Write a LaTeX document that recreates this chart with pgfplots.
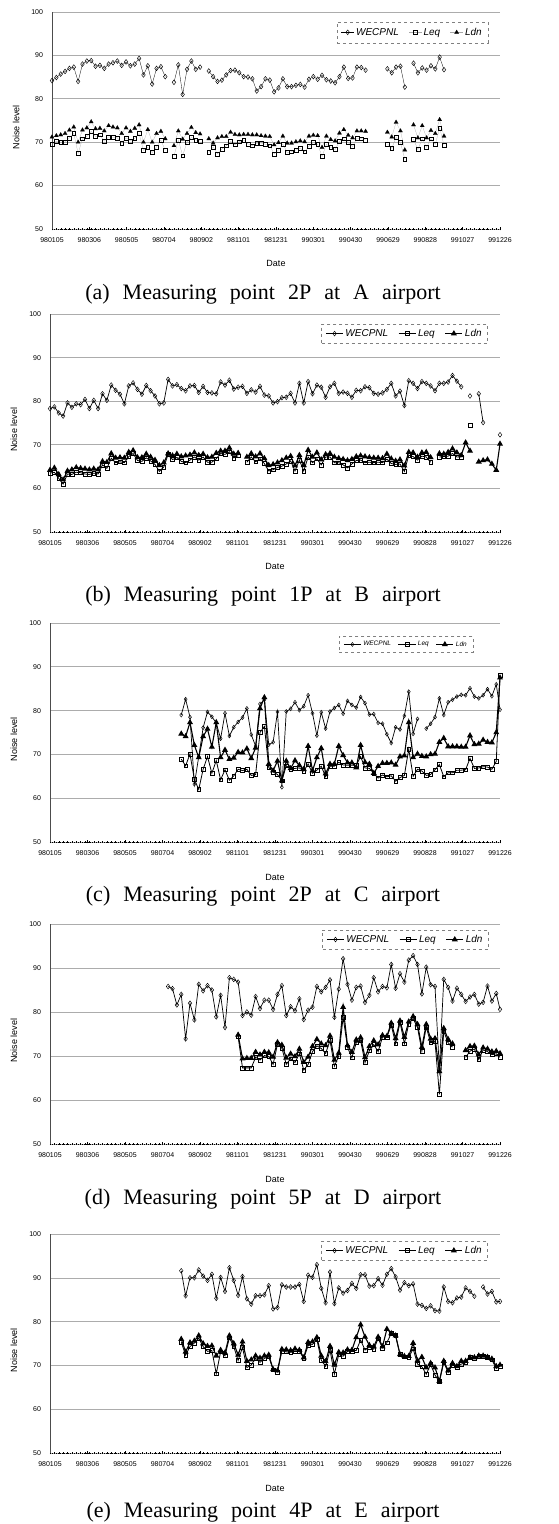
\documentclass[border=0pt]{standalone}
\usepackage{fontspec}
\setmainfont{Liberation Serif}
\setsansfont{Liberation Sans}
\usepackage{pgfplots}
\usepackage{pgfplotstable}
\pgfplotsset{compat=1.18}

\pgfplotstableread{
k W L D
0 84.2 69.5 71.2
1 84.9 70.2 71.5
2 85.7 70.0 71.7
3 86.3 70.0 72.0
4 87.0 71.0 72.8
5 87.3 72.0 73.5
6 84.0 67.4 70.0
7 88.0 70.8 72.8
8 88.7 71.3 73.3
9 88.8 72.5 74.7
10 87.5 71.3 73.1
11 87.7 71.7 73.2
12 87.0 70.2 72.6
13 88.0 71.2 73.8
14 88.3 71.1 73.5
15 88.7 71.0 73.3
16 87.7 69.8 72.0
17 88.5 71.0 73.3
18 87.6 70.3 72.5
19 88.0 70.9 73.2
20 89.3 72.0 74.0
21 85.5 68.1 70.0
22 87.6 68.8 72.9
23 83.4 67.6 70.0
24 87.0 68.9 72.0
25 87.4 70.5 72.5
26 85.1 68.1 70.8
27 nan nan nan
28 83.8 66.8 69.2
29 87.8 70.5 72.6
30 81.0 66.9 70.7
31 86.8 70.0 72.0
32 88.7 71.1 73.4
33 86.8 70.5 72.2
34 87.3 70.3 71.9
35 nan nan nan
36 86.4 67.6 70.8
37 85.1 68.9 69.8
38 84.0 67.3 71.0
39 84.3 68.4 71.3
40 85.5 69.2 71.3
41 86.5 70.2 72.3
42 86.6 69.4 71.8
43 86.0 70.1 71.7
44 85.1 70.5 71.8
45 85.0 69.6 71.8
46 84.6 69.2 71.7
47 81.8 69.7 71.7
48 82.8 69.8 71.5
49 84.6 69.5 71.4
50 84.3 69.2 71.3
51 81.6 67.3 69.4
52 82.5 68.2 69.9
53 84.6 69.6 71.4
54 82.8 67.6 69.8
55 82.8 67.8 69.8
56 83.1 68.2 70.1
57 83.3 68.6 70.3
58 82.7 67.8 70.1
59 84.5 69.1 71.4
60 85.1 69.9 71.6
61 84.5 69.5 71.5
62 85.4 66.7 68.8
63 84.4 69.5 71.4
64 84.1 68.8 70.6
65 83.7 68.3 70.3
66 85.1 70.2 72.1
67 87.3 70.8 72.9
68 84.7 69.9 71.6
69 84.8 69.0 71.0
70 87.3 70.9 72.6
71 87.2 70.8 72.6
72 86.6 70.5 72.5
73 nan nan nan
77 86.9 69.6 72.3
78 86.0 68.6 71.2
79 87.3 71.1 74.6
80 87.5 69.9 72.6
81 82.7 66.1 68.2
82 nan nan nan
83 88.2 70.7 74.0
84 86.0 68.3 71.0
85 87.1 70.8 73.8
86 86.6 68.8 71.0
87 87.6 70.8 72.7
88 86.9 69.5 72.0
89 89.6 73.3 75.2
90 86.7 69.3 71.4
}\tabA

\pgfplotstableread{
k W L D
0 78.3 63.5 64.2
1 78.7 63.7 64.7
2 77.3 62.3 63.2
3 76.6 61.0 62.0
4 79.6 63.3 64.0
5 78.6 63.2 64.3
6 79.4 63.7 64.8
7 79.2 63.6 64.6
8 80.4 63.3 64.5
9 78.3 63.2 64.3
10 80.2 63.5 64.5
11 78.3 63.3 64.3
12 81.7 65.4 66.2
13 80.2 64.6 66.0
14 83.7 66.9 68.0
15 82.5 65.9 67.0
16 81.6 66.1 67.1
17 79.4 65.9 67.0
18 83.5 67.3 68.3
19 84.2 68.0 68.7
20 82.7 66.4 67.1
21 81.6 66.2 67.1
22 83.6 67.0 67.9
23 82.4 66.3 67.2
24 81.2 65.5 66.5
25 79.4 63.9 65.3
26 79.6 64.9 65.9
27 85.0 67.8 68.0
28 83.5 66.6 67.5
29 83.8 67.1 67.9
30 82.9 66.2 67.3
31 82.4 65.9 67.5
32 83.5 66.5 67.7
33 83.6 67.2 68.2
34 82.0 66.5 67.6
35 83.4 67.2 67.9
36 82.0 66.0 67.1
37 81.9 66.0 67.2
38 81.7 66.8 68.1
39 84.4 68.0 68.6
40 83.7 67.8 68.6
41 84.8 68.4 69.3
42 82.8 67.0 67.9
43 83.2 67.5 68.1
44 83.4 nan nan
45 81.8 66.0 67.2
46 82.6 67.2 68.0
47 82.1 66.1 67.3
48 83.4 66.8 68.0
49 81.4 65.7 66.9
50 81.2 64.0 65.3
51 79.6 64.3 65.5
52 79.9 64.8 65.9
53 80.8 65.1 66.4
54 80.9 65.6 67.0
55 81.8 66.3 67.4
56 79.6 64.0 65.2
57 84.1 66.5 67.6
58 79.6 64.0 65.3
59 84.5 67.2 68.8
60 81.7 65.9 67.2
61 83.7 66.8 68.2
62 83.2 65.4 66.6
63 80.9 67.2 67.8
64 83.3 67.2 68.0
65 84.1 65.9 67.2
66 81.8 65.9 66.9
67 82.1 65.4 66.7
68 81.8 64.7 66.4
69 80.9 65.6 66.7
70 82.5 66.4 67.3
71 82.4 66.5 67.5
72 83.3 65.9 67.3
73 83.1 66.0 67.1
74 81.8 65.9 67.0
75 81.6 66.0 67.0
76 81.9 65.9 66.9
77 82.7 66.7 67.9
78 84.1 65.7 66.8
79 81.2 65.5 66.3
80 82.3 65.6 66.6
81 79.0 63.9 65.2
82 84.7 67.6 68.3
83 84.1 67.3 68.2
84 82.9 66.5 67.2
85 84.5 67.4 68.2
86 84.1 67.2 68.3
87 83.5 66.0 67.1
88 82.4 nan nan
89 84.1 67.2 68.0
90 84.1 67.3 67.9
91 84.4 67.4 68.3
92 85.9 68.0 69.1
93 84.6 67.2 68.2
94 83.3 67.2 67.6
95 nan nan 70.5
96 81.2 74.4 68.6
97 nan nan nan
98 81.7 nan 66.1
99 75.1 nan 66.4
100 nan nan 66.6
101 nan nan 65.6
102 nan nan 64.2
102.86 72.3 nan 70.2
}\tabB

\pgfplotstableread{
k W L D
30 79.0 68.9 74.7
31 82.6 67.4 74.1
32 78.5 70.1 77.3
33 63.2 64.3 72.1
34 69.5 62.0 69.3
35 76.1 66.6 74.1
36 79.7 69.5 75.8
37 78.6 65.7 71.7
38 77.2 68.6 77.3
39 73.6 64.2 69.3
40 79.4 66.5 71.0
41 74.2 64.1 68.9
42 76.2 65.1 69.2
43 77.4 66.6 70.5
44 78.4 66.3 70.4
45 80.5 66.6 71.3
46 74.5 65.2 69.1
47 71.9 65.4 71.5
48 81.5 75.0 80.5
49 82.5 76.4 83.0
50 72.2 67.0 67.8
51 72.8 66.0 66.3
52 79.7 65.4 68.5
53 62.5 64.0 64.0
54 79.8 67.4 68.5
55 80.4 66.7 66.8
56 81.9 66.8 68.6
57 80.1 66.9 67.5
58 81.0 66.2 66.6
59 83.5 67.8 71.9
60 79.4 65.7 66.3
61 74.3 66.4 69.3
62 79.6 67.3 71.4
63 75.9 64.9 65.6
64 79.8 67.3 67.8
65 80.6 67.3 67.8
66 81.3 68.2 71.9
67 79.3 67.6 69.8
68 82.2 67.5 68.1
69 81.3 67.5 68.1
70 80.7 67.5 67.0
71 83.1 69.5 72.1
72 81.7 66.9 68.2
73 79.1 66.8 67.8
74 79.2 65.7 65.7
75 77.2 64.6 67.3
76 77.0 65.3 68.0
77 74.6 64.9 68.0
78 72.6 65.1 68.1
79 76.2 63.9 67.6
80 75.7 64.7 69.5
81 78.8 65.2 69.7
82 84.3 71.2 77.3
83 74.7 65.0 69.3
84 78.1 66.6 70.1
85 nan 66.2 69.6
86 75.9 65.2 69.5
87 77.0 65.4 70.0
88 78.5 66.5 70.1
89 82.8 67.7 72.8
90 79.0 64.9 73.7
91 81.9 65.8 71.8
92 82.5 65.8 71.8
93 83.2 66.4 71.8
94 83.6 66.4 71.7
95 83.5 66.5 71.7
96 85.1 69.1 74.3
97 83.2 66.8 72.3
98 82.8 66.9 72.4
99 83.5 67.2 73.3
100 84.9 67.1 72.8
101 83.3 66.6 72.7
102 86.0 68.4 75.0
102.86 80.2 88.0 87.5
}\tabC

\pgfplotstableread{
k W L D
27 85.8 nan nan
28 85.3 nan nan
29 81.6 nan nan
30 84.0 nan nan
31 73.9 nan nan
32 82.0 nan nan
33 78.2 nan nan
34 86.3 nan nan
35 84.8 nan nan
36 86.0 nan nan
37 85.0 nan nan
38 78.9 nan nan
39 83.8 nan nan
40 76.5 nan nan
41 87.8 nan nan
42 87.4 nan nan
43 86.8 74.4 74.8
44 79.2 67.3 69.4
45 80.0 67.3 69.5
46 79.3 67.3 69.5
47 83.5 69.7 70.9
48 80.8 69.1 70.3
49 82.7 70.1 70.9
50 82.7 69.9 70.8
51 80.6 68.1 69.8
52 84.0 72.7 73.1
53 86.0 71.8 72.5
54 79.2 68.1 69.6
55 81.2 69.4 70.5
56 80.3 68.5 69.9
57 83.0 70.5 71.6
58 78.3 66.8 68.6
59 80.4 68.1 69.8
60 81.1 71.0 72.2
61 85.8 72.3 73.8
62 84.6 71.7 72.8
63 85.6 70.6 72.4
64 87.3 73.5 74.6
65 78.8 67.7 69.1
66 85.2 70.0 70.7
67 92.1 78.8 81.1
68 86.3 72.0 72.4
69 82.7 69.6 70.9
70 85.6 73.0 73.7
71 85.9 73.5 74.2
72 82.2 68.5 69.7
73 83.8 71.2 72.2
74 87.8 72.6 73.5
75 84.6 71.0 72.6
76 85.8 74.3 74.7
77 85.5 74.3 74.5
78 90.8 77.0 77.5
79 85.4 72.8 74.0
80 88.7 77.7 78.0
81 86.8 72.8 74.3
82 91.8 77.3 77.8
83 92.8 78.5 79.0
84 90.8 76.5 77.2
85 84.1 71.1 72.0
86 90.2 76.6 77.2
87 86.2 73.0 73.9
88 85.8 73.3 74.0
89 67.0 61.3 66.5
90 87.4 75.6 76.3
91 85.6 73.0 73.8
92 82.5 72.0 72.8
93 85.4 nan nan
94 84.0 nan nan
95 82.4 69.7 71.3
96 83.4 71.1 72.2
97 84.0 71.6 72.3
98 81.8 69.2 70.3
99 82.2 71.4 71.9
100 85.9 71.0 71.6
101 82.5 70.3 71.0
102 84.2 70.5 71.1
102.86 80.6 69.7 70.6
}\tabD

\pgfplotstableread{
k W L D
30 91.6 75.3 76.0
31 85.9 72.3 73.1
32 90.0 74.3 75.2
33 90.0 75.1 75.6
34 91.8 76.2 76.8
35 90.4 74.3 75.0
36 89.4 73.2 74.4
37 90.8 73.4 74.5
38 85.3 68.1 72.2
39 90.1 73.1 73.5
40 86.9 72.2 72.9
41 92.3 76.3 76.8
42 89.4 74.3 75.0
43 86.0 71.1 72.4
44 90.3 74.1 75.4
45 85.2 69.5 71.0
46 84.0 70.1 71.3
47 85.9 71.6 72.2
48 85.9 70.7 71.7
49 86.1 71.6 72.2
50 88.2 72.0 72.4
51 82.9 69.0 69.1
52 83.2 68.5 68.8
53 88.4 73.3 73.7
54 87.9 73.1 73.6
55 87.9 73.0 73.4
56 87.9 73.2 73.8
57 88.5 73.2 73.5
58 84.6 71.6 71.8
59 90.6 74.5 75.3
60 90.1 74.8 75.4
61 93.0 75.9 76.4
62 87.6 71.2 72.2
63 84.3 69.8 70.9
64 91.3 73.5 74.4
65 84.1 68.0 70.1
66 87.7 72.5 73.0
67 86.5 72.1 72.9
68 87.1 73.2 73.6
69 88.7 73.3 73.5
70 87.6 73.4 76.4
71 90.7 75.8 79.3
72 90.7 73.5 76.5
73 88.1 74.2 74.6
74 88.2 73.7 74.3
75 89.8 76.1 76.5
76 88.3 74.0 74.3
77 90.8 75.2 78.3
78 92.1 77.3 77.3
79 90.2 76.8 76.8
80 87.2 72.5 72.5
81 88.9 72.0 72.1
82 88.2 71.8 72.1
83 88.6 73.8 75.1
84 84.0 70.3 71.1
85 83.7 69.7 71.9
86 83.0 68.0 69.5
87 83.6 70.2 70.5
88 82.5 67.8 69.5
89 82.4 66.3 66.4
90 87.9 70.7 71.0
91 84.6 68.4 68.8
92 84.3 70.1 70.5
93 85.4 69.6 69.8
94 85.6 70.3 71.0
95 87.7 70.6 71.0
96 86.9 71.8 71.8
97 85.8 71.6 71.8
98 nan 72.1 72.2
99 87.9 72.1 72.2
100 86.3 71.8 71.9
101 86.9 71.3 71.5
102 84.5 69.3 69.8
102.86 84.6 69.8 70.1
}\tabE

\pgfplotsset{
  panel/.style={
    scale only axis, width=450pt, height=218pt, clip=false,
    xmin=0, xmax=102.857, ymin=50, ymax=100,
    ytick={50,60,...,100},
    xtick={0,8.5714,17.1429,25.7143,34.2857,42.8571,51.4286,60,68.5714,77.1429,85.7143,94.2857,102.857},
    xticklabels={980105,980306,980505,980704,980902,981101,981231,990301,990430,990629,990828,991027,991226},
    minor xtick={0,1,...,102},
    axis x line=bottom, axis y line=left, axis line style={-},
    x axis line style={black, line width=0.5pt, dash pattern=on 1.2pt off 0.8pt},
    y axis line style={black!70, line width=0.6pt},
    ymajorgrids, grid style={gray!65, line width=0.6pt},
    xtick style={black, line width=0.4pt}, tick align=center,
    major tick length=3pt, minor tick length=2pt,
    ytick style={draw=none},
    tick label style={font=\sffamily\fontsize{7}{8}\selectfont},
    xticklabel style={yshift=-4pt},
    yticklabel style={xshift=-4pt},
    /pgf/number format/assume math mode=true,
    xlabel=Date, ylabel=Noise level,
    label style={font=\sffamily\fontsize{9}{10}\selectfont},
    xlabel style={at={(axis description cs:0.5,-0.16)}, anchor=center},
    ylabel style={at={(axis description cs:-0.08,0.47)}, anchor=center},
    unbounded coords=jump,
    legend columns=3,
    legend cell align=left,
    legend style={draw=gray, dashed, fill=white, inner xsep=4pt, inner ysep=3pt,
      font=\sffamily\itshape\fontsize{10}{11}\selectfont,
      /tikz/every even column/.append style={column sep=8pt}},
  },
  shortleg/.style={legend image code/.code={
      \draw[mark repeat=2, mark phase=2, ##1] plot coordinates {(0cm,0cm) (0.22cm,0cm) (0.44cm,0cm)};}},
  wS/.style={black, solid, line width=0.5pt, mark=diamond, mark size=2.4pt,
    mark options={solid, draw=black, fill=white, line width=0.45pt}},
  lS/.style={black, solid, line width=0.6pt, mark=square, mark size=1.9pt,
    mark options={solid, draw=black, fill=white, line width=0.45pt}},
  dS/.style={black, solid, line width=0.9pt, mark=triangle*, mark size=2.4pt,
    mark options={solid, draw=black, fill=black}},
}

\begin{document}
\begin{tikzpicture}
\useasboundingbox (0,0) rectangle (558pt,1524pt);

% (a)
\begin{axis}[panel, shortleg, at={(52pt,1295pt)}, width=448pt, height=217pt,
  legend style={at={(0.973,0.955)}, anchor=north east, inner ysep=4pt}]
\addplot[wS, line width=0.3pt] table[x=k, y=W] {\tabA};
\addplot[lS, line width=0.2pt, draw=black!35] table[x=k, y=L] {\tabA};
\addplot[dS, line width=0.2pt, draw=black!35] table[x=k, y=D] {\tabA};
\legend{WECPNL, Leq, Ldn}
\end{axis}

% (b)
\begin{axis}[panel, at={(50pt,992pt)}, height=218pt,
  legend style={at={(0.973,0.954)}, anchor=north east}]
\addplot[wS, line width=0.7pt] table[x=k, y=W] {\tabB};
\addplot[lS, line width=0.8pt] table[x=k, y=L] {\tabB};
\addplot[dS, line width=1.1pt] table[x=k, y=D] {\tabB};
\legend{WECPNL, Leq, Ldn}
\end{axis}

% (c)
\begin{axis}[panel, at={(50pt,682pt)}, height=219pt,
  legend style={at={(0.94,0.94)}, anchor=north east,
    font=\sffamily\itshape\fontsize{6.5}{7.5}\selectfont,
    /tikz/every even column/.append style={column sep=5pt}}]
\addplot[wS, line width=0.7pt, mark size=2pt] table[x=k, y=W] {\tabC};
\addplot[lS, line width=0.8pt] table[x=k, y=L] {\tabC};
\addplot[dS, line width=1.1pt] table[x=k, y=D] {\tabC};
\legend{WECPNL, Leq, Ldn}
\end{axis}

% (d)
\begin{axis}[panel, at={(50pt,380pt)}, height=220pt,
  legend style={at={(0.975,0.973)}, anchor=north east}]
\addplot[wS, line width=0.7pt] table[x=k, y=W] {\tabD};
\addplot[lS, line width=0.8pt] table[x=k, y=L] {\tabD};
\addplot[dS, line width=1.1pt] table[x=k, y=D] {\tabD};
\legend{WECPNL, Leq, Ldn}
\end{axis}

% (e)
\begin{axis}[panel, at={(50pt,71pt)}, height=219pt,
  legend style={at={(0.973,0.968)}, anchor=north east}]
\addplot[wS, line width=0.7pt] table[x=k, y=W] {\tabE};
\addplot[lS, line width=0.8pt] table[x=k, y=L] {\tabE};
\addplot[dS, line width=1.1pt] table[x=k, y=D] {\tabE};
\legend{WECPNL, Leq, Ldn}
\end{axis}

\begin{scope}[every node/.style={anchor=base, font=\fontsize{22}{24}\selectfont}]
\node at (263pt,1224pt) {\spaceskip=13pt\relax (a) Measuring point 2P at A airport};
\node at (263pt,922pt) {\spaceskip=13pt\relax (b) Measuring point 1P at B airport};
\node at (263pt,622pt) {\spaceskip=13pt\relax (c) Measuring point 2P at C airport};
\node at (263pt,319pt) {\spaceskip=13pt\relax (d) Measuring point 5P at D airport};
\node at (263pt,6pt) {\spaceskip=13pt\relax (e) Measuring point 4P at E airport};
\end{scope}
\end{tikzpicture}
\end{document}
